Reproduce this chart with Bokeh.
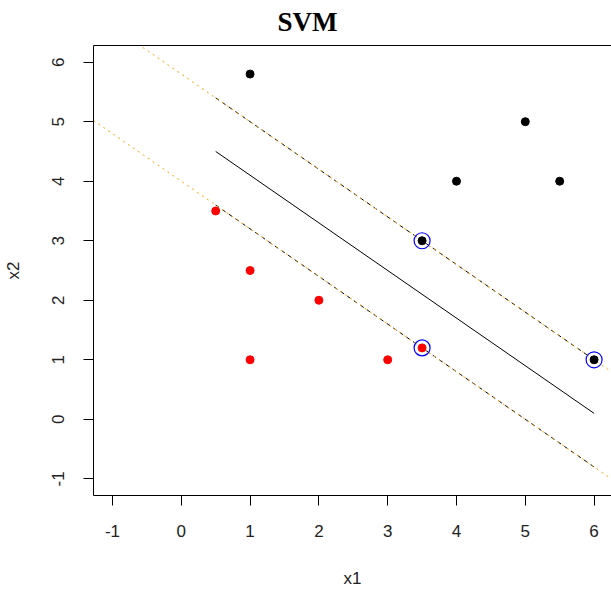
import numpy as np
from bokeh.plotting import figure
from bokeh.models import LinearAxis, FixedTicker, Range1d
from bokeh.embed import file_html
from bokeh.resources import INLINE

# Data
pos_x1 = [1, 5, 4, 5.5, 3.5, 6]
pos_x2 = [5.8, 5, 4, 4, 3, 1]
neg_x1 = [0.5, 1, 2, 1, 3, 3.5]
neg_x2 = [3.5, 2.5, 2, 1, 1, 1.2]
sv_x1 = [3.5, 3.5, 6]
sv_x2 = [3, 1.2, 1]
slope = -0.8
intercept_mid = 4.9
intercept_upper = 5.8
intercept_lower = 4.0
x_ticks = [-1, 0, 1, 2, 3, 4, 5, 6]
y_ticks = [-1, 0, 1, 2, 3, 4, 5, 6]
tick_labels = {t: str(t) for t in x_ticks}
title_text = "SVM"

xlim = (-1.276, 6.253)
ylim = (-1.28, 6.28)

p = figure(width=611, height=590, output_backend="svg", toolbar_location=None,
           x_range=Range1d(*xlim), y_range=Range1d(*ylim),
           min_border_left=93, min_border_right=0, min_border_bottom=94,
           min_border_top=45, title=title_text)
p.outline_line_color = None
p.xgrid.visible = False
p.ygrid.visible = False
p.background_fill_color = "white"
p.border_fill_color = "white"

# title: centred on the page (left edge of the text at x=277 px)
p.title.align = "left"
p.title.offset = 184
p.title.vertical_align = "top"
p.title.standoff = 13
p.title.text_font = "Liberation Serif"
p.title.text_font_style = "bold"
p.title.text_font_size = "27px"
p.title.text_color = "black"

for ax in (p.xaxis[0], p.yaxis[0]):
    ax.axis_line_color = "black"
    ax.major_tick_line_color = "black"
    ax.minor_tick_line_color = None
    ax.major_tick_in = 0
    ax.major_tick_out = 10
    ax.major_label_text_font = "Liberation Sans"
    ax.major_label_text_font_size = "17px"
    ax.major_label_text_color = "#222222"
    ax.axis_label_text_font = "Liberation Sans"
    ax.axis_label_text_font_size = "17px"
    ax.axis_label_text_font_style = "normal"
    ax.axis_label_text_color = "#222222"

p.xaxis.ticker = FixedTicker(ticks=x_ticks)
p.yaxis.ticker = FixedTicker(ticks=y_ticks)
p.xaxis.major_label_overrides = tick_labels
p.yaxis.major_label_overrides = tick_labels
p.xaxis.axis_label = "x1"
p.yaxis.axis_label = "x2"
p.yaxis.major_label_orientation = "vertical"
p.xaxis.major_label_standoff = 19
p.yaxis.major_label_standoff = 19
p.xaxis.axis_label_standoff = 29
p.yaxis.axis_label_standoff = 27

# top border of the plot box
top_axis = LinearAxis(ticker=FixedTicker(ticks=[]), axis_line_color="black",
                      major_tick_line_color=None, minor_tick_line_color=None,
                      major_tick_out=0, major_tick_in=0,
                      major_label_text_font_size="0px")
p.add_layout(top_axis, "above")

# Lines
x_full = np.array(xlim)
x_seg = np.array([min(neg_x1 + pos_x1), max(neg_x1 + pos_x1)])

p.line(x_seg, intercept_mid + slope * x_seg, line_color="black", line_width=1)
p.line(x_seg, intercept_upper + slope * x_seg, line_color="black", line_width=1, line_dash="4 4")
p.line(x_seg, intercept_lower + slope * x_seg, line_color="black", line_width=1, line_dash="4 4")
p.line(x_full, intercept_upper + slope * x_full, line_color="orange", line_width=1, line_dash="2 4")
p.line(x_full, intercept_lower + slope * x_full, line_color="orange", line_width=1, line_dash="2 4")

# Points
p.scatter(pos_x1, pos_x2, size=8, color="black")
p.scatter(neg_x1, neg_x2, size=8, color="red")
p.scatter(sv_x1, sv_x2, size=16, fill_color=None, line_color="blue", line_width=1.2)

open("out.html", "w").write(file_html(p, INLINE))
